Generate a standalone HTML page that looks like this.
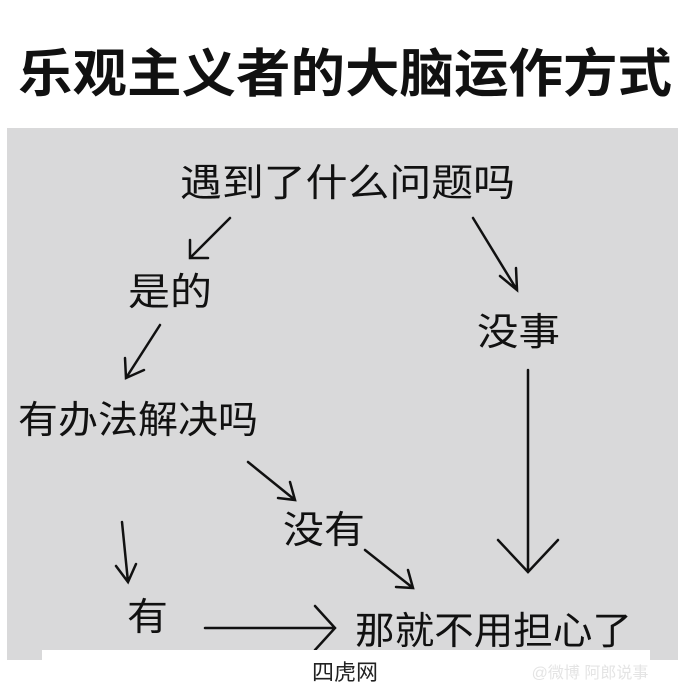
<!DOCTYPE html>
<html><head><meta charset="utf-8"><style>
html,body{margin:0;padding:0;background:#fff;}
svg{display:block;font-family:"Liberation Sans","Noto Sans CJK SC",sans-serif;}
</style></head><body>
<svg width="690" height="690" viewBox="0 0 690 690">
<rect width="690" height="690" fill="#fff"/>
<text x="18" y="92" font-size="52" font-weight="bold" fill="#111" textLength="654" lengthAdjust="spacingAndGlyphs">乐观主义者的大脑运作方式</text>
<rect x="7" y="128" width="671" height="532" fill="#d9d9da"/>
<g fill="#111" font-size="38">
<text x="180" y="196" textLength="335" lengthAdjust="spacingAndGlyphs">遇到了什么问题吗</text>
<text x="128" y="305" textLength="84" lengthAdjust="spacingAndGlyphs">是的</text>
<text x="477" y="345" textLength="83" lengthAdjust="spacingAndGlyphs">没事</text>
<text x="18" y="433" textLength="240" lengthAdjust="spacingAndGlyphs">有办法解决吗</text>
<text x="283" y="543" textLength="82" lengthAdjust="spacingAndGlyphs">没有</text>
<text x="127" y="630" textLength="41" lengthAdjust="spacingAndGlyphs">有</text>
<text x="355" y="644" textLength="277" lengthAdjust="spacingAndGlyphs">那就不用担心了</text>
</g>
<g stroke="#111" stroke-width="2.5" fill="none" stroke-linecap="round">
<path d="M230 218 L190 258 M190 240 L190 258 L208 258"/>
<path d="M160 325 L126 378 M125 358 L126 378 L144 370"/>
<path d="M248 462 L295 500 M278 498 L295 500 L290 482"/>
<path d="M122 522 L128 582 M116 566 L128 582 L136 564"/>
<path d="M365 550 L413 588 M396 587 L413 588 L408 570"/>
<path d="M473 218 L517 290 M500 276 L517 290 L516 268"/>
<path d="M528 370 L528 572 M498 540 L528 572 L558 540"/>
<path d="M205 628 L335 628 M315 606 L335 628 L315 650"/>
</g>
<rect x="42" y="650" width="608" height="40" fill="#fff"/>
<text x="345" y="680" font-size="22" fill="#222" text-anchor="middle">四虎网</text>
<text x="590" y="678" font-size="16" fill="#e4e4e4" text-anchor="middle">@微博 阿郎说事</text>
</svg>
</body></html>
